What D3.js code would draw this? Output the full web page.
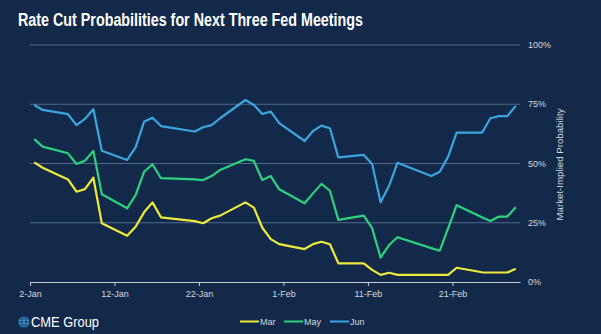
<!DOCTYPE html>
<html>
  <head>
    <meta charset="utf-8">
    <title></title>
    <script src="https://d3js.org/d3.v7.min.js"></script>
  </head>
  <style>
    body { margin: 0; background: #13294a; }
    svg { display: block; font-family: "Liberation Sans", Arial, sans-serif; }
  </style>
  <body>
  <svg width="601" height="334"></svg>
  <script>

  // trading days, 2025
  var dates = ["2025-01-02","2025-01-03","2025-01-06","2025-01-07","2025-01-08","2025-01-09","2025-01-10",
               "2025-01-13","2025-01-14","2025-01-15","2025-01-16","2025-01-17",
               "2025-01-21","2025-01-22","2025-01-23","2025-01-24",
               "2025-01-27","2025-01-28","2025-01-29","2025-01-30","2025-01-31",
               "2025-02-03","2025-02-04","2025-02-05","2025-02-06","2025-02-07",
               "2025-02-10","2025-02-11","2025-02-12","2025-02-13","2025-02-14",
               "2025-02-18","2025-02-19","2025-02-20","2025-02-21",
               "2025-02-24","2025-02-25","2025-02-26","2025-02-27","2025-02-28"];

  var mar = [50.5,48.2,43.3,38.1,39.2,44.0,24.8, 19.5,23.3,29.4,33.6,27.3, 25.7,24.8,26.9,28.0,
             33.6,31.4,22.9,18.1,16.0, 13.9,16.0,17.0,15.9,7.9, 7.9,5.1,3.0,3.9,3.0,
             3.0,3.0,3.0,6.0, 4.1,4.0,4.0,4.0,5.6];
  var may = [60.3,57.1,54.3,49.8,51.2,55.3,37.0, 31.1,36.7,46.5,49.7,43.8, 43.3,43.0,44.7,47.3,
             51.8,51.1,43.0,44.7,39.1, 33.2,37.4,41.4,38.5,26.2, 28.0,22.7,10.3,15.6,18.9,
             14.3,13.2,22.7,32.4, 27.3,25.7,27.6,27.6,31.5];
  var jun = [74.7,72.6,70.8,66.2,68.8,72.9,55.4, 51.5,56.8,67.6,69.3,65.8, 63.5,65.3,66.2,69.1,
             76.8,74.7,70.9,71.9,67.0, 59.5,63.7,66.0,64.9,52.6, 53.6,49.8,33.6,40.6,50.3,
             44.7,46.5,52.9,63.0, 63.0,69.1,70.0,70.0,74.3];

  var seriesNames = ["Mar", "May", "Jun"];
  var seriesColors = ["#eeea3c", "#2ed27c", "#3aa5de"];
  var yTicks = [0, 25, 50, 75, 100];
  var xTicks = ["2025-01-02","2025-01-12","2025-01-22","2025-02-01","2025-02-11","2025-02-21"];

  var parse = d3.utcParse("%Y-%m-%d");
  var svg = d3.select("svg");

  svg.append("rect").attr("width", 601).attr("height", 334).attr("fill", "#13294a");

  var x = d3.scaleUtc()
            .domain([parse("2025-01-02"), parse("2025-03-01")])
            .range([30, 520]);
  var y = d3.scaleLinear().domain([0, 100]).range([282, 45]);

  // title (text in the source is a bit narrow)
  svg.append("text")
     .attr("x", 18).attr("y", 26)
     .attr("fill", "#ffffff")
     .attr("font-size", 17.5).attr("font-weight", "bold")
     .attr("textLength", 345).attr("lengthAdjust", "spacingAndGlyphs")
     .text("Rate Cut Probabilities for Next Three Fed Meetings");

  // grid
  svg.append("g")
     .selectAll("line")
     .data(yTicks.filter(function(d) { return d > 0; }))
     .enter().append("line")
     .attr("x1", 30).attr("x2", 520)
     .attr("y1", function(d) { return y(d); })
     .attr("y2", function(d) { return y(d); })
     .attr("stroke", "#51688a").attr("stroke-width", 1);

  // right axis labels
  svg.append("g")
     .selectAll("text")
     .data(yTicks)
     .enter().append("text")
     .attr("x", 528)
     .attr("y", function(d) { return y(d) + 3; })
     .attr("fill", "#d5d9df").attr("font-size", 9)
     .text(function(d) { return d + "%"; });

  svg.append("text")
     .attr("transform", "translate(563," + (y(50) + 1) + ") rotate(-90)")
     .attr("text-anchor", "middle")
     .attr("fill", "#d5d9df").attr("font-size", 9.7)
     .text("Market-Implied Probability");

  // x axis
  var xAxis = svg.append("g")
     .attr("transform", "translate(0,282)")
     .call(d3.axisBottom(x)
       .tickValues(xTicks.map(parse))
       .tickFormat(d3.utcFormat("%-d-%b"))
       .tickSize(4)
       .tickSizeOuter(0));
  xAxis.select(".domain").attr("stroke", "#c9ced6").attr("stroke-width", 1.2);
  xAxis.selectAll(".tick line").attr("stroke", "#c9ced6");
  xAxis.selectAll(".tick text")
       .attr("fill", "#d5d9df").attr("font-size", 9)
       .attr("font-family", "Liberation Sans, Arial, sans-serif")
       .attr("dy", "0.9em");

  // lines
  var all = [mar, may, jun];
  var line = d3.line()
     .x(function(d, i) { return x(d3.utcHour.offset(parse(dates[i]), 12)); })
     .y(function(d) { return y(d); });

  svg.append("g")
     .selectAll("path")
     .data(all)
     .enter().append("path")
     .attr("d", function(d) { return line(d); })
     .attr("fill", "none")
     .attr("stroke", function(d, i) { return seriesColors[i]; })
     .attr("stroke-width", 2.2)
     .attr("stroke-linejoin", "round");

  // legend
  var legend = svg.append("g");
  var lx = [240, 284, 330];
  seriesNames.forEach(function(name, i) {
    legend.append("line")
      .attr("x1", lx[i]).attr("x2", lx[i] + 19)
      .attr("y1", 321.5).attr("y2", 321.5)
      .attr("stroke", seriesColors[i]).attr("stroke-width", 2);
    legend.append("text")
      .attr("x", lx[i] + 20).attr("y", 325)
      .attr("fill", "#d5d9df").attr("font-size", 9)
      .text(name);
  });

  // logo
  var logo = svg.append("g");
  logo.append("circle").attr("cx", 24).attr("cy", 322).attr("r", 5.5).attr("fill", "#3a8fd0");
  logo.append("ellipse").attr("cx", 24).attr("cy", 322).attr("rx", 2.3).attr("ry", 5.5)
      .attr("fill", "none").attr("stroke", "#13294a").attr("stroke-width", 0.7);
  logo.append("line").attr("x1", 18.5).attr("x2", 29.5).attr("y1", 322).attr("y2", 322)
      .attr("stroke", "#13294a").attr("stroke-width", 0.7);
  logo.append("line").attr("x1", 19.5).attr("x2", 28.5).attr("y1", 319).attr("y2", 319)
      .attr("stroke", "#13294a").attr("stroke-width", 0.6);
  logo.append("line").attr("x1", 19.5).attr("x2", 28.5).attr("y1", 325).attr("y2", 325)
      .attr("stroke", "#13294a").attr("stroke-width", 0.6);
  logo.append("text")
      .attr("x", 31).attr("y", 327)
      .attr("fill", "#ffffff").attr("font-size", 14.5)
      .attr("textLength", 68).attr("lengthAdjust", "spacingAndGlyphs")
      .text("CME Group");

  </script>
  </body>
</html>
